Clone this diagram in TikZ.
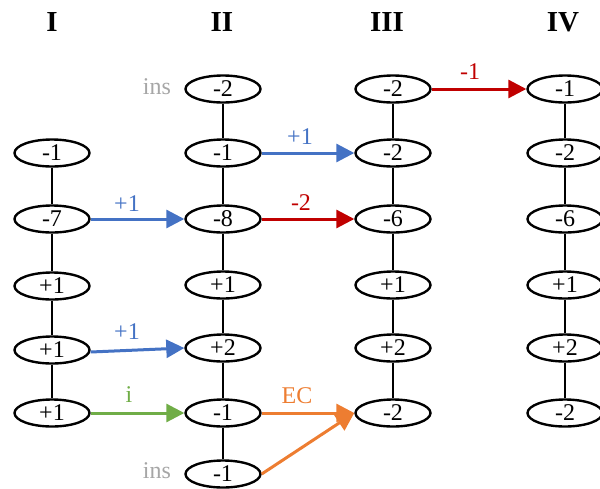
\documentclass[tikz,border=0pt]{standalone}
\usepackage{fontspec}
\setmainfont{Liberation Serif}
\usetikzlibrary{shapes.geometric,arrows.meta}
\definecolor{cblue}{HTML}{4472C4}
\definecolor{cred}{HTML}{C00000}
\definecolor{cgreen}{HTML}{70AD47}
\definecolor{corange}{HTML}{ED7D31}
\definecolor{cgray}{HTML}{A6A6A6}
\tikzset{
  oval/.style={ellipse, draw, line width=2.4pt, minimum width=75pt, minimum height=27pt, inner sep=0pt, font=\fontsize{24}{26}\selectfont},
  hdr/.style={font=\fontsize{29}{31}\selectfont\bfseries},
  link/.style={line width=1.1pt},
  arr/.style={line width=3pt, -{Triangle[length=18pt,width=18pt]}},
  lbl/.style={font=\fontsize{24}{26}\selectfont},
  insl/.style={font=\fontsize{24}{26}\selectfont, text=cgray},
}
\begin{document}
\begin{tikzpicture}[x=1pt,y=-1pt]
\useasboundingbox (0,0) rectangle (600,488);
\clip (0,0) rectangle (600,488);
% headers
\node[hdr] (hI) at (52,22) {I};
\node[hdr] (hII) at (222,22) {II};
\node[hdr] (hIII) at (387,22) {III};
\node[hdr] (hIV) at (563,22) {IV};
% column I
\node[oval] (I2) at (52,153) {-1};
\node[oval] (I3) at (52,219) {-7};
\node[oval] (I4) at (52,286) {+1};
\node[oval] (I5) at (52,350) {+1};
\node[oval] (I6) at (52,413) {+1};
% column II
\node[oval] (II1) at (223,89) {-2};
\node[oval] (II2) at (223,153) {-1};
\node[oval] (II3) at (223,219) {-8};
\node[oval] (II4) at (223,285) {+1};
\node[oval] (II5) at (223,348) {+2};
\node[oval] (II6) at (223,413) {-1};
\node[oval] (II7) at (223,474) {-1};
% column III
\node[oval] (III1) at (393,89) {-2};
\node[oval] (III2) at (393,153) {-2};
\node[oval] (III3) at (393,219) {-6};
\node[oval] (III4) at (393,285) {+1};
\node[oval] (III5) at (393,348) {+2};
\node[oval] (III6) at (393,413) {-2};
% column IV
\node[oval] (IV1) at (565,89) {-1};
\node[oval] (IV2) at (565,153) {-2};
\node[oval] (IV3) at (565,219) {-6};
\node[oval] (IV4) at (565,285) {+1};
\node[oval] (IV5) at (565,348) {+2};
\node[oval] (IV6) at (565,413) {-2};
% vertical links
\draw[link] (I2) -- (I3) (I3) -- (I4) (I4) -- (I5) (I5) -- (I6);
\draw[link] (II1) -- (II2) (II2) -- (II3) (II3) -- (II4) (II4) -- (II5) (II5) -- (II6) (II6) -- (II7);
\draw[link] (III1) -- (III2) (III2) -- (III3) (III3) -- (III4) (III4) -- (III5) (III5) -- (III6);
\draw[link] (IV1) -- (IV2) (IV2) -- (IV3) (IV3) -- (IV4) (IV4) -- (IV5) (IV5) -- (IV6);
% ins labels
\node[insl] (ins1) at (157,87) {ins};
\node[insl] (ins2) at (157,471) {ins};
% arrows
\draw[arr, cblue] (I3.east) -- (II3.west);
\node[lbl, text=cblue] (l1) at (127,204) {+1};
\draw[arr, cblue] (II2.east) -- (III2.west);
\node[lbl, text=cblue] (l2) at (300,137) {+1};
\draw[arr, cred] (II3.east) -- (III3.west);
\node[lbl, text=cred] (l3) at (301,203) {-2};
\draw[arr, cred] (III1.east) -- (IV1.west);
\node[lbl, text=cred] (l4) at (470,72) {-1};
\draw[arr, cblue] ([yshift=-2pt]I5.east) -- (II5.west);
\node[lbl, text=cblue] (l5) at (127,332) {+1};
\draw[arr, cgreen] (I6.east) -- (II6.west);
\node[lbl, text=cgreen] (l6) at (129,395) {i};
\draw[arr, corange] (II6.east) -- (III6.west);
\draw[arr, corange] (II7.east) -- (III6.west);
\node[lbl, text=corange] (l7) at (297,396) {EC};
\end{tikzpicture}
\end{document}
